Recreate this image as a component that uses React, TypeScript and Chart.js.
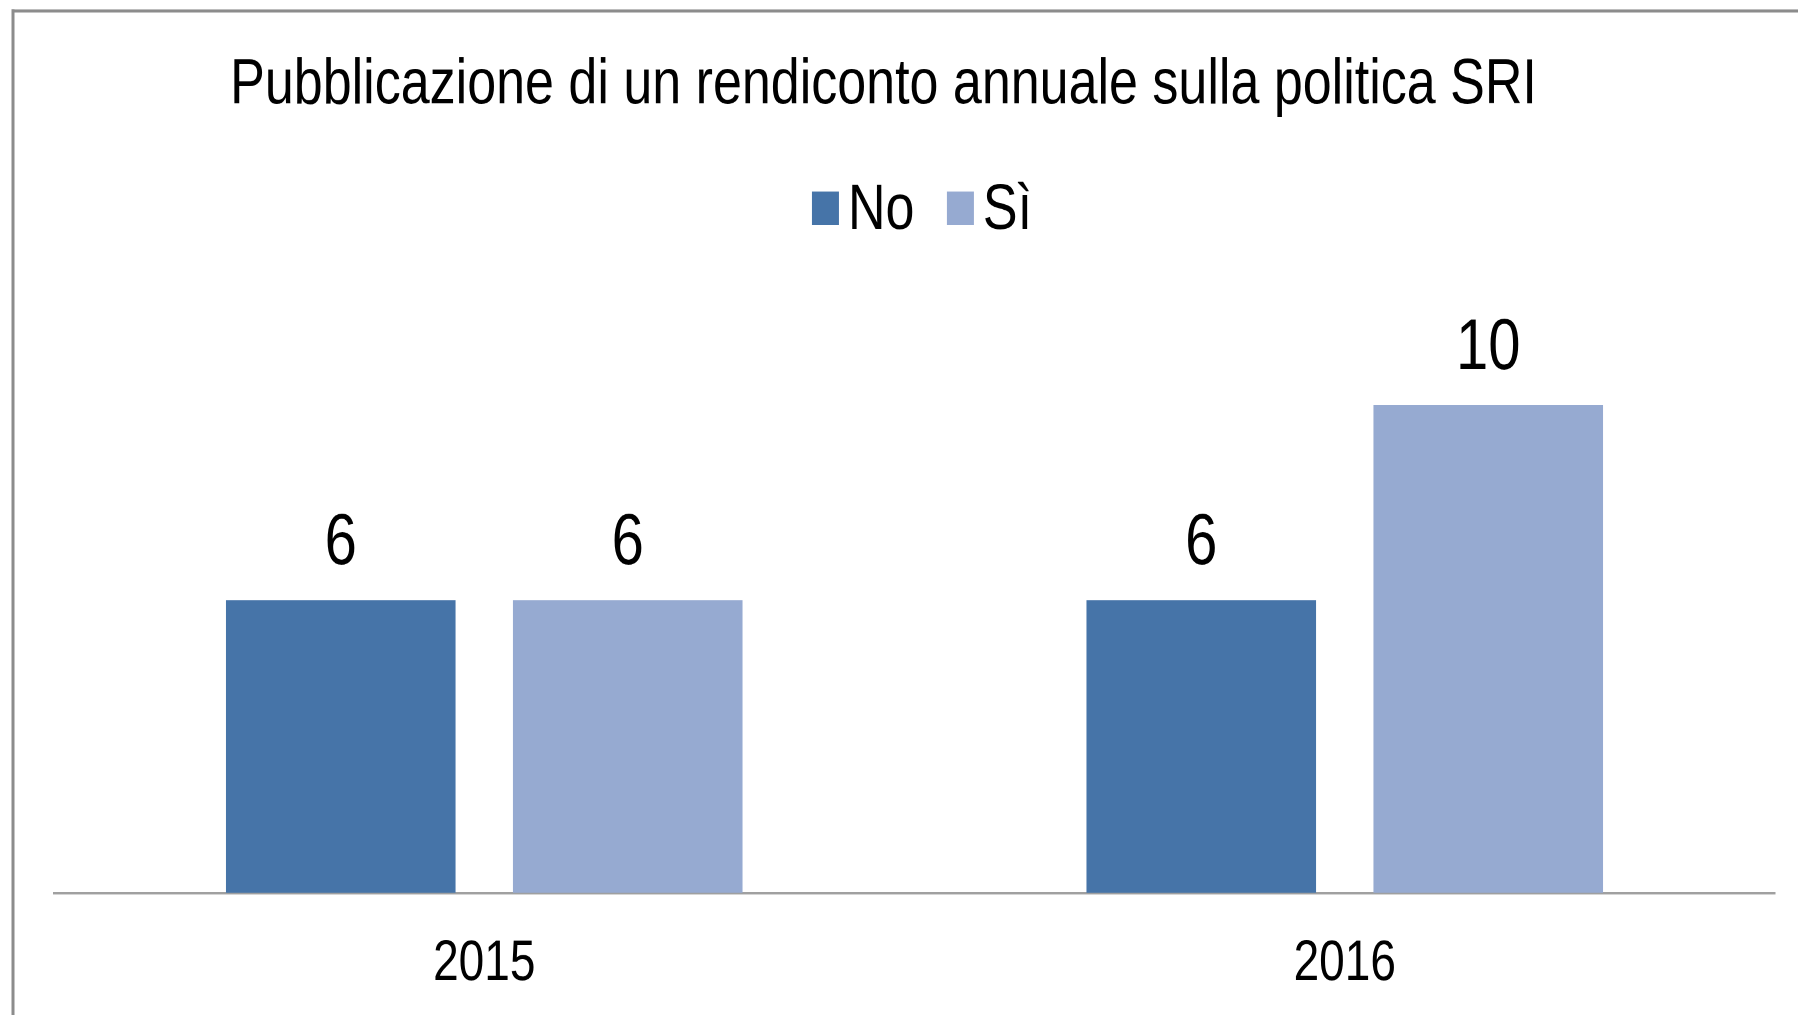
import { useEffect, useRef } from "react";
import { Chart, registerables } from "chart.js";

Chart.register(...registerables);

// ---- data ----
const categories = ["2015", "2016"];
const seriesNames = ["No", "Sì"];
const noValues = [6, 6];
const siValues = [6, 10];
const chartTitle = "Pubblicazione di un rendiconto annuale sulla politica SRI";

// ---- layout constants ----
const W = 1798;
const H = 1015;
const STRETCH = 1.23;
const PRE_H = Math.round(H / STRETCH);
const FONT = '"Liberation Sans", Arial, sans-serif';
const COLORS = ["#4674a8", "#96aad1"];

const decorPlugin = {
  id: "decor",
  beforeDraw(chart: any) {
    const ctx = chart.ctx as CanvasRenderingContext2D;
    ctx.save();
    ctx.fillStyle = "#ffffff";
    ctx.fillRect(0, 0, W, PRE_H);
    // frame
    ctx.fillStyle = "#8c8c8c";
    ctx.fillRect(11.5, 7.7, W, 2.5);
    ctx.fillRect(11.5, 7.7, 3, PRE_H);
    // title
    ctx.fillStyle = "#000000";
    ctx.font = `52px ${FONT}`;
    ctx.textAlign = "center";
    ctx.textBaseline = "alphabetic";
    ctx.fillText(chartTitle, 883.5, 83.9);
    // legend
    ctx.font = `52px ${FONT}`;
    ctx.textAlign = "left";
    const box = 27;
    const gap = 9;
    const spacing = 32.5;
    const ds = chart.data.datasets;
    const widths = ds.map((d: any) => box + gap + ctx.measureText(d.label).width);
    const total = widths.reduce((a: number, b: number) => a + b, 0) + spacing * (ds.length - 1);
    let x = 922 - total / 2;
    ds.forEach((d: any, i: number) => {
      ctx.fillStyle = d.backgroundColor;
      ctx.fillRect(x, 155.7, box, 27.3);
      ctx.fillStyle = "#000000";
      ctx.fillText(d.label, x + box + gap, 186);
      x += widths[i] + spacing;
    });
    ctx.restore();
  },
  afterDatasetsDraw(chart: any) {
    const ctx = chart.ctx as CanvasRenderingContext2D;
    ctx.save();
    ctx.fillStyle = "#000000";
    ctx.font = `58px ${FONT}`;
    ctx.textAlign = "center";
    ctx.textBaseline = "alphabetic";
    chart.data.datasets.forEach((d: any, i: number) => {
      const meta = chart.getDatasetMeta(i);
      meta.data.forEach((bar: any, j: number) => {
        ctx.fillText(String(d.data[j]), bar.x, bar.y - 29);
      });
    });
    ctx.restore();
  },
};

export default function App() {
  const ref = useRef<HTMLCanvasElement>(null);
  useEffect(() => {
    if (!ref.current) return;
    const chart = new Chart(ref.current, {
      type: "bar",
      data: {
        labels: categories,
        datasets: [
          { label: seriesNames[0], data: noValues, backgroundColor: COLORS[0] },
          { label: seriesNames[1], data: siValues, backgroundColor: COLORS[1] },
        ],
      },
      options: {
        responsive: false,
        animation: false,
        devicePixelRatio: 2,
        layout: { padding: { top: 210, left: 54, right: 23, bottom: -16.6 } },
        datasets: { bar: { categoryPercentage: 0.667, barPercentage: 0.8 } },
        plugins: {
          legend: { display: false },
          title: { display: false },
          tooltip: { enabled: false },
        },
        scales: {
          x: {
            grid: { display: false, drawTicks: false },
            border: { display: true, color: "#a0a0a0", width: 2 },
            ticks: { color: "#000000", font: { family: FONT, size: 46 }, padding: 30.3 },
          },
          y: { display: false, min: 0, max: 13 },
        },
      },
      plugins: [decorPlugin],
    });
    return () => chart.destroy();
  }, []);
  return (
    <div style={{ position: "fixed", left: 0, top: 0, width: W, height: H, overflow: "hidden", background: "#fff" }}>
      <div style={{ width: W, height: PRE_H, transform: `scaleY(${H / PRE_H})`, transformOrigin: "0 0" }}>
        <canvas ref={ref} width={W} height={PRE_H} style={{ width: W, height: PRE_H, display: "block" }} />
      </div>
    </div>
  );
}
